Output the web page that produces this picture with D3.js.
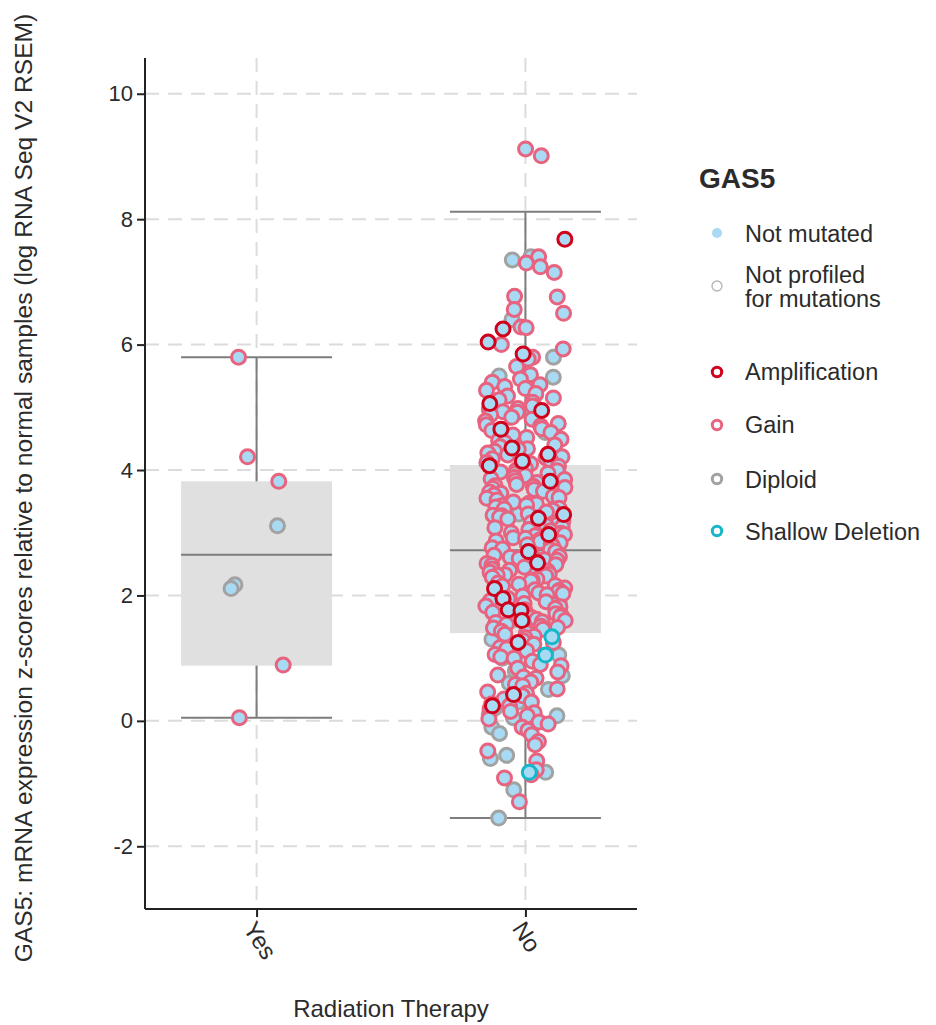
<!DOCTYPE html>
<html>
<head>
<meta charset="utf-8">
<script src="https://cdn.jsdelivr.net/npm/d3@7"></script>
<style>
  body { margin: 0; background: #fff; }
  text { font-family: "Liberation Sans", Arial, sans-serif; fill: #2b2b2b; }
</style>
</head>
<body>
<svg id="chart" width="936" height="1025"></svg>
<script>
// ---- data ----
const categories = ["Yes", "No"];
const yTicks = [-2, 0, 2, 4, 6, 8, 10];

// box summaries, one entry per category
const boxQ1 = [0.88, 1.40];
const boxMedian = [2.65, 2.72];
const boxQ3 = [3.82, 4.08];
const whiskerLow = [0.05, -1.55];
const whiskerHigh = [5.80, 8.12];

// GAS5 expression per sample, grouped by copy-number call
const yesGain = [5.80, 4.21, 3.82, 0.89, 0.05];
const yesDiploid = [3.11, 2.17, 2.11];

const noDiploid = [7.40, 7.35, 6.40, 5.80, 5.50, 5.48, 5.20, 4.60, 4.40, 3.30, 3.10,
  2.90, 2.40, 1.90, 1.62, 1.30, 1.05, 1.00, 0.95, 0.80, 0.72, 0.60, 0.50, 0.40,
  0.30, 0.20, 0.10, 0.08, 0.05, -0.10, -0.20, -0.55, -0.60, -0.82, -1.10, -1.55];

const noGain = [9.12, 9.01, 7.40, 7.30, 7.24, 7.15, 6.77, 6.76, 6.56, 6.50, 6.28,
  6.27, 6.00, 5.93, 5.80, 5.77, 5.65, 5.52,
  5.45, 5.40, 5.36, 5.33, 5.30, 5.27, 5.22, 5.18, 5.15, 5.12, 5.08, 5.02, 4.98,
  4.97, 4.93, 4.92, 4.88, 4.84, 4.81, 4.78, 4.74, 4.72, 4.70, 4.66, 4.63, 4.60,
  4.56, 4.52, 4.49, 4.47, 4.44, 4.40, 4.37, 4.34, 4.33, 4.30, 4.27, 4.24, 4.21,
  4.19, 4.18, 4.15, 4.12, 4.10, 4.06, 4.05, 4.03, 4.00,
  3.99, 3.97, 3.95, 3.94, 3.91, 3.88, 3.86, 3.85, 3.83, 3.80, 3.77, 3.75, 3.74,
  3.72, 3.71, 3.69, 3.66, 3.65, 3.63, 3.60, 3.58, 3.56, 3.55, 3.52, 3.49, 3.47,
  3.46, 3.44, 3.43, 3.41, 3.39, 3.38, 3.36, 3.33, 3.30, 3.28, 3.27, 3.25, 3.22,
  3.19, 3.18, 3.16, 3.14, 3.13, 3.11, 3.09, 3.08, 3.05, 3.03, 3.00, 2.99, 2.97,
  2.95, 2.92, 2.91, 2.89, 2.87, 2.86, 2.84, 2.83, 2.81, 2.78, 2.76, 2.74, 2.73,
  2.70, 2.67, 2.66, 2.64, 2.62, 2.61, 2.59, 2.57, 2.56, 2.53, 2.51, 2.49, 2.48,
  2.45, 2.42, 2.40, 2.39, 2.37, 2.34, 2.33, 2.32, 2.31, 2.29, 2.26, 2.24, 2.23,
  2.20, 2.18, 2.16, 2.15, 2.12, 2.09, 2.08, 2.06, 2.04, 2.03, 2.01, 1.99, 1.98,
  1.95, 1.93, 1.91, 1.90, 1.87, 1.84, 1.83, 1.82, 1.79, 1.77, 1.76, 1.74, 1.73,
  1.71, 1.68, 1.66, 1.65, 1.62, 1.60, 1.58, 1.57, 1.54, 1.51, 1.49, 1.48, 1.46,
  1.43, 1.41,
  1.38, 1.35, 1.33, 1.28, 1.25, 1.22, 1.17, 1.15, 1.12, 1.06, 1.02, 1.00, 0.95,
  0.90, 0.88, 0.84, 0.78, 0.73, 0.70, 0.68, 0.62, 0.58, 0.56, 0.51, 0.46, 0.44,
  0.40, 0.35, 0.30, 0.27, 0.24, 0.19, 0.15, 0.13, 0.08, 0.03,
  -0.02, -0.05, -0.10, -0.15, -0.22, -0.33, -0.38, -0.48, -0.64, -0.78, -0.86,
  -0.91, -1.29];

const noShallowDeletion = [1.34, 1.05, -0.82];

const noAmplification = [7.68, 6.25, 6.04, 5.85, 5.06, 4.95, 4.65, 4.35, 4.25,
  4.14, 4.07, 3.82, 3.29, 3.23, 2.97, 2.70, 2.52, 2.11, 1.95, 1.77, 1.76, 1.60,
  1.25, 0.42, 0.24];

const legendTitle = "GAS5";
const legendLabels = ["Not mutated", "Not profiled\nfor mutations", "Amplification", "Gain", "Diploid", "Shallow Deletion"];

// ---- styles ----
const FILL = "#a8dbf3";
const CNA_STROKE = {
  amp: "#d0011b",
  gain: "#e8637f",
  diploid: "#a2a2a2",
  shallow: "#16b7c9"
};

// ---- layout ----
const svg = d3.select("#chart");
const plot = { left: 145, right: 637, top: 58, bottom: 909 };

const x = d3.scalePoint().domain(categories).range([plot.left, plot.right]).padding(0.415);
const y = d3.scaleLinear().domain([-3, 10.57]).range([plot.bottom, plot.top]);
const boxWidth = 151;

// deterministic jitter for the strip points
function mulberry32(a) {
  return function () {
    a |= 0; a = a + 0x6D2B79F5 | 0;
    let t = Math.imul(a ^ a >>> 15, 1 | a);
    t = t + Math.imul(t ^ t >>> 7, 61 | t) ^ t;
    return ((t ^ t >>> 14) >>> 0) / 4294967296;
  };
}
const rand = mulberry32(20240611);

// gridlines
const grid = svg.append("g").attr("stroke", "#dcdcdc").attr("stroke-width", 2)
  .attr("stroke-dasharray", "14,9").attr("fill", "none");
grid.selectAll("line.h").data(yTicks).join("line").attr("class", "h")
  .attr("x1", plot.left).attr("x2", plot.right)
  .attr("y1", d => y(d)).attr("y2", d => y(d));
grid.selectAll("line.v").data(categories).join("line").attr("class", "v")
  .attr("x1", d => x(d)).attr("x2", d => x(d))
  .attr("y1", plot.top).attr("y2", plot.bottom);

// boxes
const boxes = svg.append("g");
categories.forEach((c, i) => {
  const cx = x(c);
  const g = boxes.append("g");
  g.append("rect")
    .attr("x", cx - boxWidth / 2).attr("width", boxWidth)
    .attr("y", y(boxQ3[i])).attr("height", y(boxQ1[i]) - y(boxQ3[i]))
    .attr("fill", "#e0e0e0");
  const ln = (x1, y1, x2, y2) => g.append("line")
    .attr("x1", x1).attr("y1", y1).attr("x2", x2).attr("y2", y2)
    .attr("stroke", "#7d7d7d").attr("stroke-width", 2);
  ln(cx, y(whiskerHigh[i]), cx, y(boxQ3[i]));
  ln(cx, y(boxQ1[i]), cx, y(whiskerLow[i]));
  ln(cx - boxWidth / 2, y(whiskerHigh[i]), cx + boxWidth / 2, y(whiskerHigh[i]));
  ln(cx - boxWidth / 2, y(whiskerLow[i]), cx + boxWidth / 2, y(whiskerLow[i]));
  ln(cx - boxWidth / 2, y(boxMedian[i]), cx + boxWidth / 2, y(boxMedian[i]));
});

// sample points, drawn diploid first so CNA calls sit on top
const points = [];
const add = (cat, vals, type) => vals.forEach(v => points.push({ cat, v, type }));
add("Yes", yesDiploid, "diploid");
add("No", noDiploid, "diploid");
add("Yes", yesGain, "gain");
add("No", noGain, "gain");
add("No", noShallowDeletion, "shallow");
add("No", noAmplification, "amp");
points.forEach(p => { p.jx = (rand() * 2 - 1) * (p.cat === "Yes" ? 28 : 40); });

svg.append("g").selectAll("circle").data(points).join("circle")
  .attr("cx", d => x(d.cat) + d.jx)
  .attr("cy", d => y(d.v))
  .attr("r", 7)
  .attr("fill", FILL)
  .attr("stroke", d => CNA_STROKE[d.type])
  .attr("stroke-width", 3);

// axes
const yAxis = svg.append("g").attr("transform", `translate(${plot.left},0)`)
  .call(d3.axisLeft(y).tickValues(yTicks).tickSize(8).tickPadding(4).tickFormat(d => String(d)));
yAxis.select(".domain").attr("stroke", "#222").attr("stroke-width", 2)
  .attr("d", `M0,${plot.top}V${plot.bottom}`);
yAxis.selectAll(".tick line").attr("stroke", "#222").attr("stroke-width", 2);
yAxis.selectAll(".tick text").style("font-size", "22px").attr("fill", "#2b2b2b")
  .style("font-family", '"Liberation Sans", Arial, sans-serif');

const xAxis = svg.append("g").attr("transform", `translate(0,${plot.bottom})`)
  .call(d3.axisBottom(x).tickSize(8).tickSizeOuter(0).tickFormat(""));
xAxis.select(".domain").attr("stroke", "#222").attr("stroke-width", 2)
  .attr("d", `M${plot.left},0H${plot.right}`);
xAxis.selectAll(".tick line").attr("stroke", "#222").attr("stroke-width", 2);

svg.append("g").selectAll("text").data(categories).join("text")
  .attr("transform", d => `translate(${x(d) - 7},${plot.bottom + 15}) rotate(57)`)
  .attr("dy", "0.35em")
  .attr("text-anchor", "start")
  .style("font-size", "24px")
  .text(d => d);

// axis titles
svg.append("text")
  .attr("x", (plot.left + plot.right) / 2).attr("y", 1017)
  .attr("text-anchor", "middle").style("font-size", "24px")
  .text("Radiation Therapy");

svg.append("text")
  .attr("transform", "translate(32,488) rotate(-90)")
  .attr("text-anchor", "middle").style("font-size", "24.6px")
  .text("GAS5: mRNA expression z-scores relative to normal samples (log RNA Seq V2 RSEM)");

// legend
const legend = svg.append("g");
legend.append("text").attr("x", 699).attr("y", 188)
  .style("font-size", "28px").style("font-weight", "bold").text(legendTitle);

const legendRows = [
  { label: legendLabels[0], cy: 233, base: 242, sym: { r: 5, fill: FILL, stroke: "none", sw: 0 } },
  { label: legendLabels[1], cy: 286, base: 283, sym: { r: 5, fill: "none", stroke: "#b5b5b5", sw: 1.3 } },
  { label: legendLabels[2], cy: 372, base: 380, sym: { r: 4.7, fill: "none", stroke: CNA_STROKE.amp, sw: 3 } },
  { label: legendLabels[3], cy: 425, base: 433, sym: { r: 4.7, fill: "none", stroke: CNA_STROKE.gain, sw: 3 } },
  { label: legendLabels[4], cy: 479, base: 488, sym: { r: 4.7, fill: "none", stroke: CNA_STROKE.diploid, sw: 3 } },
  { label: legendLabels[5], cy: 531, base: 540, sym: { r: 4.7, fill: "none", stroke: CNA_STROKE.shallow, sw: 3 } }
];
legendRows.forEach(row => {
  legend.append("circle").attr("cx", 717).attr("cy", row.cy).attr("r", row.sym.r)
    .attr("fill", row.sym.fill).attr("stroke", row.sym.stroke).attr("stroke-width", row.sym.sw);
  const t = legend.append("text").attr("x", 745).attr("y", row.base).style("font-size", "23.5px");
  row.label.split("\n").forEach((line, k) => {
    t.append("tspan").attr("x", 745).attr("dy", k === 0 ? 0 : 24).text(line);
  });
});
</script>
</body>
</html>
